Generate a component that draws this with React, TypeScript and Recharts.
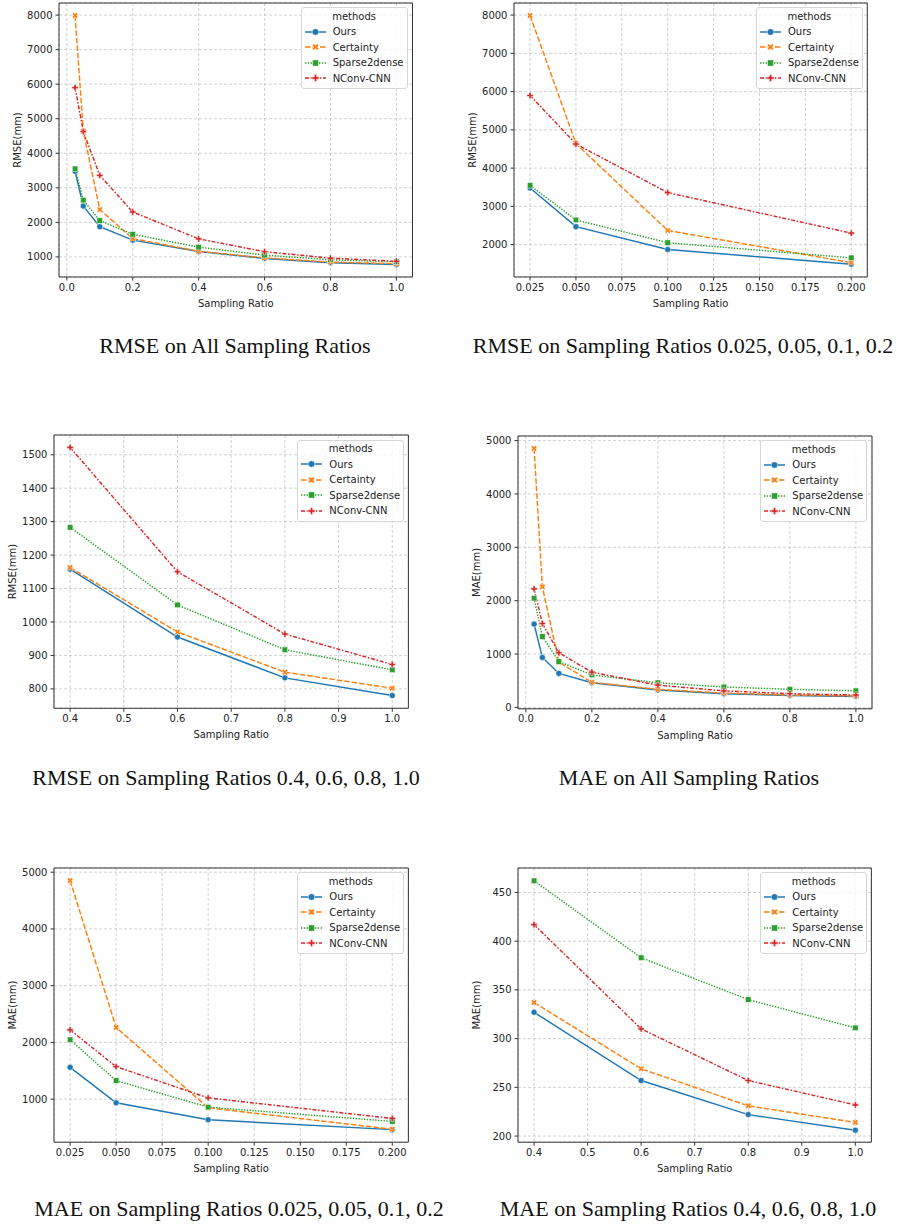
import React from 'react';
import { LineChart, Line, XAxis, YAxis, CartesianGrid, ReferenceArea } from 'recharts';

// sampling ratios shared by every panel
const ratios = [0.025, 0.05, 0.1, 0.2, 0.4, 0.6, 0.8, 1.0];

// RMSE (mm) per method, one value per sampling ratio
const rmseOurs = [3480, 2470, 1875, 1485, 1158, 955, 833, 780];
const rmseCertainty = [7990, 4640, 2370, 1530, 1163, 970, 850, 802];
const rmseSparse = [3550, 2645, 2050, 1655, 1283, 1051, 917, 857];
const rmseNconv = [5900, 4630, 3360, 2300, 1522, 1150, 964, 873];

// MAE (mm) per method
const maeOurs = [1561, 936, 637, 463, 327, 257, 222, 206];
const maeCertainty = [4854, 2263, 848, 470, 337, 269, 231, 214];
const maeSparse = [2047, 1327, 860, 608, 462, 383, 340, 311];
const maeNconv = [2222, 1573, 1023, 661, 417, 310, 257, 232];

const methods = ['Ours', 'Certainty', 'Sparse2dense', 'NConv-CNN'];
const colors = ['#1f77b4', '#ff7f0e', '#2ca02c', '#d62728'];
const dashes = ['', '5.5 2', '1.4 1.4', '4 1.7 1.6 1.7'];
const markers = ['circle', 'x', 'square', 'plus'];

// tick labels
const allXTicks = [0, 0.2, 0.4, 0.6, 0.8, 1.0];
const lowXTicks = [0.025, 0.05, 0.075, 0.1, 0.125, 0.15, 0.175, 0.2];
const highXTicks = [0.4, 0.5, 0.6, 0.7, 0.8, 0.9, 1.0];
const rmseAllTicks = [1000, 2000, 3000, 4000, 5000, 6000, 7000, 8000];
const rmseLowTicks = [2000, 3000, 4000, 5000, 6000, 7000, 8000];
const rmseHighTicks = [800, 900, 1000, 1100, 1200, 1300, 1400, 1500];
const maeAllTicks = [0, 1000, 2000, 3000, 4000, 5000];
const maeLowTicks = [1000, 2000, 3000, 4000, 5000];
const maeHighTicks = [200, 250, 300, 350, 400, 450];

const rmseSeries = [rmseOurs, rmseCertainty, rmseSparse, rmseNconv];
const maeSeries = [maeOurs, maeCertainty, maeSparse, maeNconv];

function makeRows(series: number[][], from: number, to: number) {
  return ratios.slice(from, to).map((r, k) => {
    const row: any = { ratio: r };
    methods.forEach((m, i) => { row[m] = series[i][from + k]; });
    return row;
  });
}

const AXIS_FONT = "'DejaVu Sans', Verdana, sans-serif";
const INK = '#222';

function Marker({ kind, cx, cy, color, s = 1 }: any) {
  if (cx == null || cy == null) return null;
  if (kind === 'circle') {
    return <circle cx={cx} cy={cy} r={3 * s} fill={color} stroke="#fff" strokeWidth={0.5} />;
  }
  if (kind === 'square') {
    const h = 2.8 * s;
    return <rect x={cx - h} y={cy - h} width={2 * h} height={2 * h} fill={color} stroke="#fff" strokeWidth={0.5} />;
  }
  const h = 3.2 * s, t = 1.05 * s;
  const pts = [[-h, -t], [-t, -t], [-t, -h], [t, -h], [t, -t], [h, -t], [h, t], [t, t], [t, h], [-t, h], [-t, t], [-h, t]]
    .map(([a, b]) => `${cx + a},${cy + b}`).join(' ');
  return (
    <polygon points={pts} fill={color} stroke="#fff" strokeWidth={0.5}
      transform={kind === 'x' ? `rotate(45 ${cx} ${cy})` : undefined} />
  );
}

function MethodLegend({ right, top }: { right: number; top: number }) {
  return (
    <div style={{
      position: 'absolute', right, top, background: 'rgba(255,255,255,0.8)',
      border: '1px solid #d6d6d6', borderRadius: 3, padding: '0.5px 3px 2px 3px',
      fontFamily: AXIS_FONT, fontSize: 10, color: INK, lineHeight: '15.5px', whiteSpace: 'nowrap',
    }}>
      <div style={{ textAlign: 'center' }}>methods</div>
      {methods.map((m, i) => (
        <div key={m} style={{ display: 'flex', alignItems: 'center', height: 15.5 }}>
          <svg width={21} height={10} style={{ display: 'block' }}>
            <line x1={0} y1={5} x2={21} y2={5} stroke={colors[i]} strokeWidth={1.5}
              strokeDasharray={dashes[i] || undefined} />
            <Marker kind={markers[i]} cx={10.5} cy={5} color={colors[i]} s={1.1} />
          </svg>
          <span style={{ marginLeft: 7 }}>{m}</span>
        </div>
      ))}
    </div>
  );
}

type Box = { x0: number; x1: number; y0: number; y1: number };

function Panel({ box, rows, xDomain, xTicks, xDigits, yDomain, yTicks, yLabel }: {
  box: Box; rows: any[]; xDomain: [number, number]; xTicks: number[]; xDigits: number;
  yDomain: [number, number]; yTicks: number[]; yLabel: string;
}) {
  const padL = 60, padT = 5, padR = 5, padB = 40;
  const w = box.x1 - box.x0 + padL + padR;
  const h = box.y1 - box.y0 + padT + padB;
  return (
    <div style={{ position: 'absolute', left: box.x0 - padL, top: box.y0 - padT, width: w, height: h }}>
      <LineChart width={w} height={h} data={rows} margin={{ top: padT, right: padR, left: 0, bottom: 0 }}>
        <CartesianGrid stroke="#bdbdbd" strokeDasharray="3 2" strokeWidth={0.7} />
        <XAxis dataKey="ratio" type="number" domain={xDomain} ticks={xTicks} allowDataOverflow interval={0}
          height={padB} axisLine={false} tickLine={{ stroke: '#333' }} tickSize={3.5} tickMargin={3}
          tick={{ fill: INK, fontSize: 10, fontFamily: AXIS_FONT }}
          tickFormatter={(v: number) => v.toFixed(xDigits)}
          label={{ value: 'Sampling Ratio', position: 'insideBottom', offset: 10,
            style: { fill: INK, fontSize: 10, fontFamily: AXIS_FONT } }} />
        <YAxis type="number" domain={yDomain} ticks={yTicks} allowDataOverflow interval={0}
          width={padL} axisLine={false} tickLine={{ stroke: '#333' }} tickSize={3.5} tickMargin={3}
          tick={{ fill: INK, fontSize: 10, fontFamily: AXIS_FONT }}
          label={{ value: yLabel, angle: -90, position: 'insideLeft', offset: 18.5,
            style: { textAnchor: 'middle', fill: INK, fontSize: 10, fontFamily: AXIS_FONT } }} />
        <ReferenceArea x1={xDomain[0]} x2={xDomain[1]} y1={yDomain[0]} y2={yDomain[1]}
          fill="none" fillOpacity={0} stroke="#333" strokeWidth={1} ifOverflow="visible" />
        {methods.map((m, i) => (
          <Line key={m} type="linear" dataKey={m} stroke={colors[i]} strokeWidth={1.45}
            strokeDasharray={dashes[i] || undefined} isAnimationActive={false} activeDot={false}
            dot={(p: any) => <Marker key={`${m}-${p.index}`} kind={markers[i]} cx={p.cx} cy={p.cy} color={colors[i]} />} />
        ))}
      </LineChart>
      <MethodLegend right={padR + 4.5} top={padT + 4.5} />
    </div>
  );
}

function Caption({ text, cx, baseline }: { text: string; cx: number; baseline: number }) {
  return (
    <div style={{
      position: 'absolute', left: cx - 250, width: 500, top: baseline - 18.4, textAlign: 'center',
      fontFamily: "'Liberation Serif', 'Times New Roman', serif", fontSize: 22, lineHeight: '22px', color: '#111',
    }}>{text}</div>
  );
}

const allX: [number, number] = [-0.02375, 1.04875];
const lowX: [number, number] = [0.01625, 0.20875];
const highX: [number, number] = [0.37, 1.03];

export default function App() {
  return (
    <div style={{ position: 'absolute', left: 0, top: 0, width: 897, height: 1227, background: '#fff', overflow: 'hidden' }}>
      <Panel box={{ x0: 58.5, x1: 412, y0: 2.5, y1: 276.5 }} rows={makeRows(rmseSeries, 0, 8)}
        xDomain={allX} xTicks={allXTicks} xDigits={1} yDomain={[418, 8350]} yTicks={rmseAllTicks} yLabel="RMSE(mm)" />
      <Panel box={{ x0: 514, x1: 867.3, y0: 2.5, y1: 276.5 }} rows={makeRows(rmseSeries, 0, 4)}
        xDomain={lowX} xTicks={lowXTicks} xDigits={3} yDomain={[1154, 8316]} yTicks={rmseLowTicks} yLabel="RMSE(mm)" />
      <Panel box={{ x0: 54.3, x1: 408.7, y0: 435, y1: 708.3 }} rows={makeRows(rmseSeries, 4, 8)}
        xDomain={highX} xTicks={highXTicks} xDigits={1} yDomain={[742, 1559]} yTicks={rmseHighTicks} yLabel="RMSE(mm)" />
      <Panel box={{ x0: 517.7, x1: 871.7, y0: 435.5, y1: 708.3 }} rows={makeRows(maeSeries, 0, 8)}
        xDomain={allX} xTicks={allXTicks} xDigits={1} yDomain={[-26, 5086]} yTicks={maeAllTicks} yLabel="MAE(mm)" />
      <Panel box={{ x0: 54.3, x1: 408.7, y0: 867.5, y1: 1141.7 }} rows={makeRows(maeSeries, 0, 4)}
        xDomain={lowX} xTicks={lowXTicks} xDigits={3} yDomain={[242, 5074]} yTicks={maeLowTicks} yLabel="MAE(mm)" />
      <Panel box={{ x0: 518.3, x1: 871.7, y0: 867.5, y1: 1141.7 }} rows={makeRows(maeSeries, 4, 8)}
        xDomain={highX} xTicks={highXTicks} xDigits={1} yDomain={[193.7, 475.1]} yTicks={maeHighTicks} yLabel="MAE(mm)" />

      <Caption text="RMSE on All Sampling Ratios" cx={235} baseline={353} />
      <Caption text="RMSE on Sampling Ratios 0.025, 0.05, 0.1, 0.2" cx={683} baseline={353} />
      <Caption text="RMSE on Sampling Ratios 0.4, 0.6, 0.8, 1.0" cx={226} baseline={785} />
      <Caption text="MAE on All Sampling Ratios" cx={689} baseline={785} />
      <Caption text="MAE on Sampling Ratios 0.025, 0.05, 0.1, 0.2" cx={239} baseline={1216} />
      <Caption text="MAE on Sampling Ratios 0.4, 0.6, 0.8, 1.0" cx={688} baseline={1216} />
    </div>
  );
}
